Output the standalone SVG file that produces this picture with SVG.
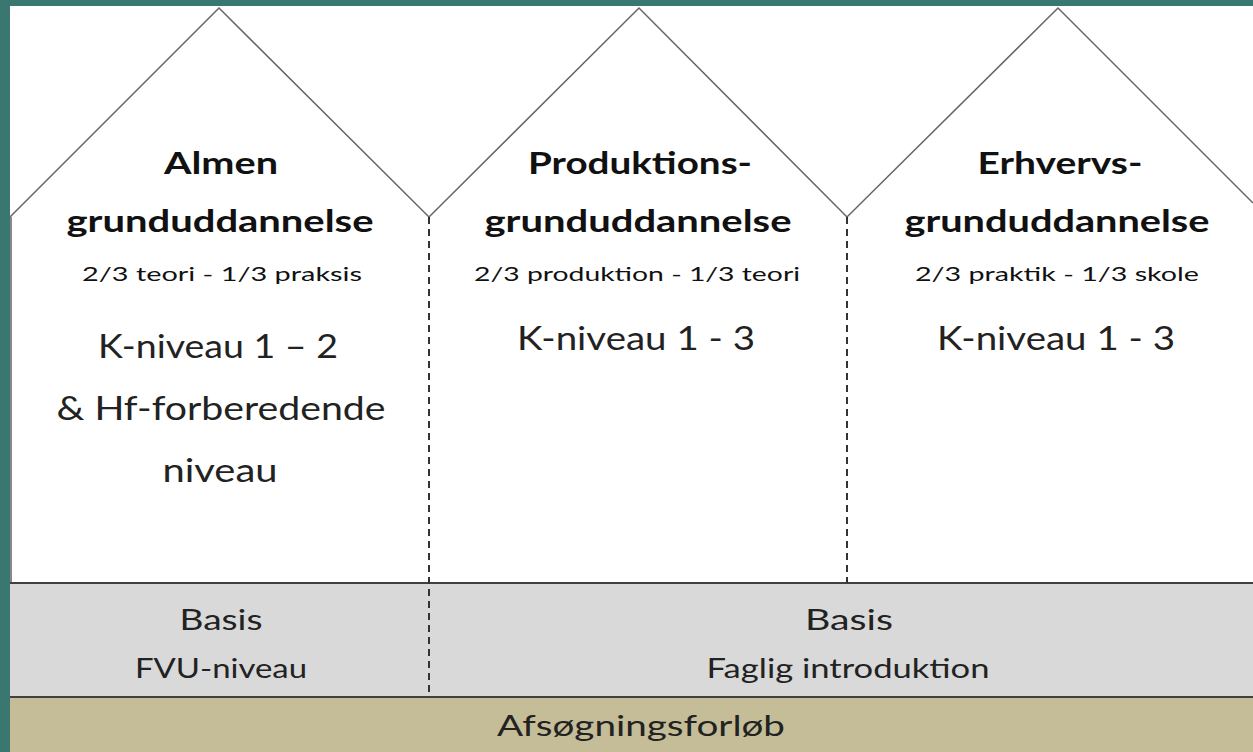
<svg xmlns="http://www.w3.org/2000/svg" width="1253" height="752" viewBox="0 0 1253 752">
<style>
text{font-family:Lato,"Open Sans","Liberation Sans",sans-serif;fill:#111;text-anchor:middle}
.t{font-weight:bold;font-size:31px}
.s{font-size:20px}
.k{font-size:32px;fill:#222}
.b{font-size:28px;fill:#222}
.f{font-size:26px;fill:#222}
.dash{stroke:#333;stroke-width:2;stroke-dasharray:7,5;fill:none}
.band{stroke:#404040;stroke-width:2}
</style>
<rect x="0" y="0" width="1253" height="752" fill="#397770"/>
<rect x="10" y="6" width="1243" height="746" fill="#ffffff"/>
<g id="roof">
<polyline points="10,217 219,8 429,217 639,8 847,217 1058,8 1253,203" fill="none" stroke="#666" stroke-width="1.5"/>
<line x1="11" y1="217" x2="11" y2="697" stroke="#888" stroke-width="2"/>
</g>
<g id="basis-band">
<rect x="10" y="583" width="1243" height="114" fill="#d9d9d9"/>
<rect x="10" y="697" width="1243" height="55" fill="#c4bd97"/>
<line class="band" x1="10" y1="583" x2="1253" y2="583"/>
<line class="band" x1="10" y1="697" x2="1253" y2="697"/>
</g>
<g id="connectors">
<line class="dash" x1="429" y1="217" x2="429" y2="697"/>
<line class="dash" x1="847" y1="217" x2="847" y2="583"/>
</g>
<g id="almen">
<text class="t" x="221" y="174" textLength="114" lengthAdjust="spacingAndGlyphs">Almen</text>
<text class="t" x="220" y="232" textLength="307" lengthAdjust="spacingAndGlyphs">grunduddannelse</text>
<text class="s" x="222" y="281" textLength="280" lengthAdjust="spacingAndGlyphs">2/3 teori - 1/3 praksis</text>
<text class="k" x="218" y="358" textLength="240" lengthAdjust="spacingAndGlyphs">K-niveau 1 – 2</text>
<text class="k" x="221" y="420" textLength="329" lengthAdjust="spacingAndGlyphs">&amp; Hf-forberedende</text>
<text class="k" x="220" y="482" textLength="115" lengthAdjust="spacingAndGlyphs">niveau</text>
</g>
<g id="produktion">
<text class="t" x="640" y="174" textLength="224" lengthAdjust="spacingAndGlyphs">Produktions-</text>
<text class="t" x="638" y="232" textLength="307" lengthAdjust="spacingAndGlyphs">grunduddannelse</text>
<text class="s" x="637" y="281" textLength="326" lengthAdjust="spacingAndGlyphs">2/3 produktion - 1/3 teori</text>
<text class="k" x="636" y="350" textLength="238" lengthAdjust="spacingAndGlyphs">K-niveau 1 - 3</text>
</g>
<g id="erhverv">
<text class="t" x="1060" y="174" textLength="165" lengthAdjust="spacingAndGlyphs">Erhvervs-</text>
<text class="t" x="1057" y="232" textLength="305" lengthAdjust="spacingAndGlyphs">grunduddannelse</text>
<text class="s" x="1057" y="281" textLength="284" lengthAdjust="spacingAndGlyphs">2/3 praktik - 1/3 skole</text>
<text class="k" x="1056" y="350" textLength="238" lengthAdjust="spacingAndGlyphs">K-niveau 1 - 3</text>
</g>
<g id="basis-fvu">
<text class="b" x="221" y="630" textLength="83" lengthAdjust="spacingAndGlyphs">Basis</text>
<text class="f" x="221" y="678" textLength="172" lengthAdjust="spacingAndGlyphs">FVU-niveau</text>
</g>
<g id="basis-faglig">
<text class="b" x="849" y="630" textLength="88" lengthAdjust="spacingAndGlyphs">Basis</text>
<text class="f" x="848" y="678" textLength="283" lengthAdjust="spacingAndGlyphs">Faglig introduktion</text>
</g>
<g id="afsoegning">
<text class="b" x="641" y="736" textLength="288" lengthAdjust="spacingAndGlyphs">Afsøgningsforløb</text>
</g>
</svg>
